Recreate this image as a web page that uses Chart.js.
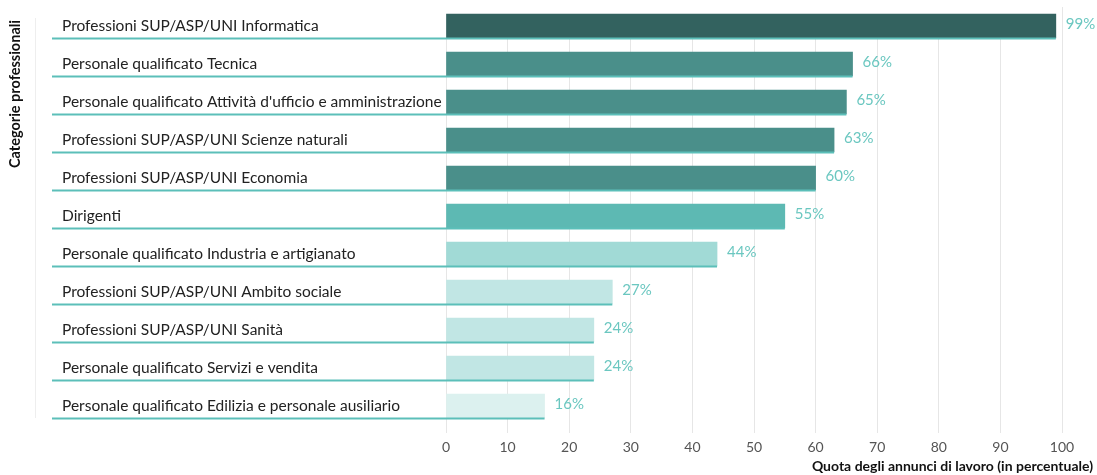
<!DOCTYPE html>
<html>
<head>
<meta charset="utf-8">
<script src="https://cdn.jsdelivr.net/npm/chart.js@4"></script>
<style>
  body { margin: 0; background: #fff; }
  #wrap { width: 1097px; height: 475px; position: relative; }
</style>
</head>
<body>
<div id="wrap"><canvas id="jobChart"></canvas></div>
<script>
// --------- Data ---------
const categories = [
    "Professioni SUP/ASP/UNI Informatica",
    "Personale qualificato Tecnica",
    "Personale qualificato Attività d'ufficio e amministrazione",
    "Professioni SUP/ASP/UNI Scienze naturali",
    "Professioni SUP/ASP/UNI Economia",
    "Dirigenti",
    "Personale qualificato Industria e artigianato",
    "Professioni SUP/ASP/UNI Ambito sociale",
    "Professioni SUP/ASP/UNI Sanità",
    "Personale qualificato Servizi e vendita",
    "Personale qualificato Edilizia e personale ausiliario"
];
const shares = [99, 66, 65, 63, 60, 55, 44, 27, 24, 24, 16];
const barColors = [
    "#33625f", "#4a8f8a", "#4a8f8a", "#4a8f8a", "#4a8f8a",
    "#5db9b3", "#a1dad6", "#c1e6e4", "#c1e6e4", "#c1e6e4", "#dcf1ef"
];
const xTicks = [0, 10, 20, 30, 40, 50, 60, 70, 80, 90, 100];
const xTitle = "Quota degli annunci di lavoro (in percentuale)";
const yTitle = "Categorie professionali";

const FONT = "Lato, 'Open Sans', sans-serif";
const TEAL = "#5cbfb9";

// --------- Plugin: underlines, value labels, titles ---------
const decorations = {
    id: "decorations",
    beforeDatasetsDraw(chart) {
        // hide grid segment above the first bar
        const { ctx, chartArea } = chart;
        ctx.save();
        ctx.fillStyle = "#fff";
        ctx.fillRect(chartArea.left - 1, chartArea.top, chartArea.right - chartArea.left - 3, 7);
        ctx.restore();
    },
    afterDatasetsDraw(chart) {
        const { ctx, chartArea, scales } = chart;
        const meta = chart.getDatasetMeta(0);
        ctx.save();

        // faint vertical rule by the axis title
        ctx.strokeStyle = "#eeeeee";
        ctx.lineWidth = 1;
        ctx.beginPath();
        ctx.moveTo(35.5, chartArea.top + 11);
        ctx.lineTo(35.5, chartArea.bottom - 7);
        ctx.stroke();

        meta.data.forEach((bar, i) => {
            const bottom = bar.y + bar.height / 2;
            // underline from the label to the bar end
            ctx.strokeStyle = TEAL;
            ctx.lineWidth = 2;
            ctx.beginPath();
            ctx.moveTo(scales.y.left - 10, bottom + 0.5);
            ctx.lineTo(bar.x, bottom + 0.5);
            ctx.stroke();

            // value label
            ctx.fillStyle = "#6bc7c0";
            ctx.font = "15px " + FONT;
            ctx.textAlign = "left";
            ctx.textBaseline = "middle";
            ctx.fillText(shares[i] + "%", bar.x + 10, bar.y - 2);
        });

        // axis titles
        ctx.fillStyle = "#111";
        ctx.font = "bold 14px " + FONT;
        ctx.textAlign = "right";
        ctx.textBaseline = "middle";
        ctx.fillText(xTitle, 1093, 466);

        ctx.font = "bold 14.5px " + FONT;
        ctx.translate(15, 94);
        ctx.rotate(-Math.PI / 2);
        ctx.textAlign = "center";
        ctx.fillText(yTitle, 0, 0);
        ctx.restore();
    }
};

// --------- Chart ---------
const ctx = document.getElementById("jobChart");
new Chart(ctx, {
    type: "bar",
    data: {
        labels: categories,
        datasets: [{
            data: shares,
            backgroundColor: barColors,
            barThickness: 24,
            borderWidth: 0
        }]
    },
    options: {
        indexAxis: "y",
        responsive: true,
        maintainAspectRatio: false,
        animation: false,
        layout: { padding: { top: 7, left: 62, right: 35, bottom: 0 } },
        plugins: {
            legend: { display: false },
            tooltip: { enabled: false }
        },
        scales: {
            x: {
                min: 0,
                max: 100,
                afterBuildTicks: (scale) => {
                    scale.ticks = xTicks.map((v) => ({ value: v }));
                },
                afterFit: (scale) => {
                    scale.height = 50;
                    scale.paddingLeft = 0;
                    scale.paddingRight = 0;
                },
                border: { display: false },
                grid: { color: "#e6e6e6", tickLength: 8, lineWidth: 1 },
                ticks: {
                    padding: 6,
                    color: "#555",
                    font: { family: FONT, size: 14 }
                }
            },
            y: {
                afterFit: (scale) => {
                    scale.width = 384;
                    scale.paddingTop = 0;
                    scale.paddingBottom = 0;
                },
                border: { display: false },
                grid: { display: false, drawTicks: false },
                ticks: {
                    crossAlign: "far",
                    color: "#222",
                    font: { family: FONT, size: 15.5 }
                }
            }
        }
    },
    plugins: [decorations]
});
</script>
</body>
</html>
